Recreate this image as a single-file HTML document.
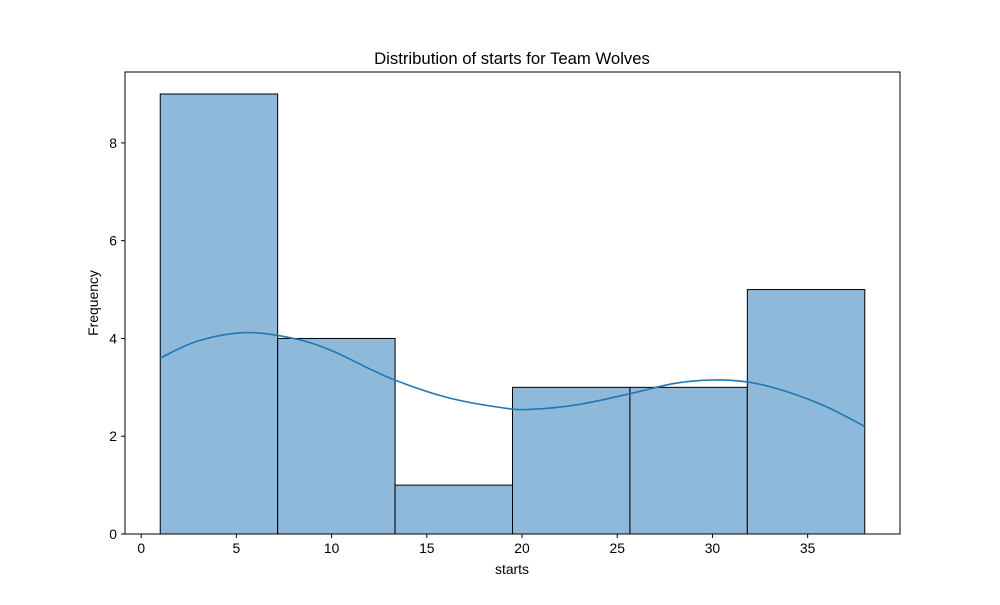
<!DOCTYPE html>
<html><head><meta charset="utf-8"><style>
body{margin:0;background:#fff;}
svg text{font-family:"Liberation Sans","DejaVu Sans",sans-serif;fill:#000;}
</style></head><body>
<svg id="chart" width="1000" height="600" xmlns="http://www.w3.org/2000/svg">
<text x="512" y="64" font-size="16.7" text-anchor="middle">Distribution of starts for Team Wolves</text>
<text x="512" y="574" font-size="13.9" text-anchor="middle">starts</text>
<text transform="translate(98,303) rotate(-90)" font-size="13.9" text-anchor="middle">Frequency</text>
<g id="bars"></g><g id="kde"></g><g id="axes"></g>
</svg>
<script>
const binEdges=[1,7.1667,13.3333,19.5,25.6667,31.8333,38];
const counts=[9,4,1,3,3,5];
const kdeX=[1,3,5.5,8,10,13,16,19,20.5,23,26,28,30,32,34,36,38];
const kdeY=[3.6,3.95,4.12,4.0,3.75,3.2,2.8,2.58,2.55,2.65,2.9,3.08,3.15,3.1,2.9,2.6,2.2];
const xTicks=[0,5,10,15,20,25,30,35];
const yTicks=[0,2,4,6,8];
const L=125,R=900,T=72,B=534,x0=-0.85,x1=39.85,y0=0,y1=9.45;
const sx=v=>L+(v-x0)/(x1-x0)*(R-L);
const sy=v=>B-(v-y0)/(y1-y0)*(B-T);
const NS="http://www.w3.org/2000/svg";
function mk(tag,attrs,parent){const e=document.createElementNS(NS,tag);for(const k in attrs)e.setAttribute(k,attrs[k]);parent.appendChild(e);return e;}
const bars=document.getElementById('bars');
counts.forEach((c,i)=>{const r=mk('rect',{x:sx(binEdges[i]),y:sy(c),width:sx(binEdges[i+1])-sx(binEdges[i]),height:sy(0)-sy(c),fill:'#8fb9da',stroke:'#000','stroke-width':1},bars);

});
const pts=kdeX.map((v,i)=>[sx(v),sy(kdeY[i])]);
let d='M'+pts[0][0]+','+pts[0][1];
for(let i=0;i<pts.length-1;i++){const p0=pts[Math.max(i-1,0)],p1=pts[i],p2=pts[i+1],p3=pts[Math.min(i+2,pts.length-1)];
d+=' C'+(p1[0]+(p2[0]-p0[0])/6)+','+(p1[1]+(p2[1]-p0[1])/6)+' '+(p2[0]-(p3[0]-p1[0])/6)+','+(p2[1]-(p3[1]-p1[1])/6)+' '+p2[0]+','+p2[1];}
const kl=mk('path',{d:d,fill:'none',stroke:'#1f77b4','stroke-width':1.6},document.getElementById('kde'));


const ax=document.getElementById('axes');
const fr=mk('rect',{x:L,y:T,width:R-L,height:B-T,fill:'none',stroke:'#000','stroke-width':1},ax);


xTicks.forEach(t=>{mk('line',{x1:sx(t),x2:sx(t),y1:B,y2:B+4,stroke:'#000'},ax);
const tx=mk('text',{x:sx(t),y:B+19,'font-size':13.9,'text-anchor':'middle'},ax);tx.textContent=t;

});
yTicks.forEach(t=>{mk('line',{x1:L-4,x2:L,y1:sy(t),y2:sy(t),stroke:'#000'},ax);
const tx=mk('text',{x:L-8,y:sy(t)+5,'font-size':13.9,'text-anchor':'end'},ax);tx.textContent=t;

});
</script>
</body></html>
